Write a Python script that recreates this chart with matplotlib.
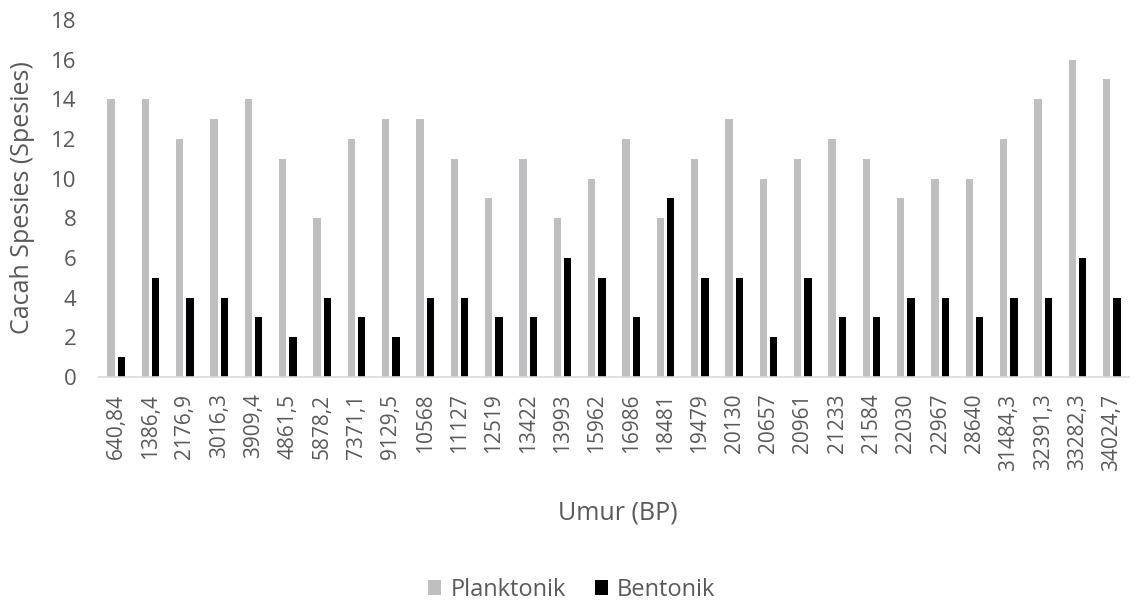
import numpy as np
import matplotlib.pyplot as plt

plt.rcParams['font.family'] = ['Open Sans', 'DejaVu Sans']

# Data
umur = ["640,84", "1386,4", "2176,9", "3016,3", "3909,4", "4861,5", "5878,2",
        "7371,1", "9129,5", "10568", "11127", "12519", "13422", "13993", "15962",
        "16986", "18481", "19479", "20130", "20657", "20961", "21233", "21584",
        "22030", "22967", "28640", "31484,3", "32391,3", "33282,3", "34024,7"]
planktonik = [14, 14, 12, 13, 14, 11, 8, 12, 13, 13, 11, 9, 11, 8, 10,
              12, 8, 11, 13, 10, 11, 12, 11, 9, 10, 10, 12, 14, 16, 15]
bentonik = [1, 5, 4, 4, 3, 2, 4, 3, 2, 4, 4, 3, 3, 6, 5,
            3, 9, 5, 5, 2, 5, 3, 3, 4, 4, 3, 4, 4, 6, 4]

txt = '#595959'
x = np.arange(len(umur))
w = 0.21
off = 0.15

fig = plt.figure(figsize=(11.37, 6.05), dpi=100)
ax = fig.add_axes([0.087, 0.377, 0.906, 0.590])

ax.bar(x - off, planktonik, w, color='#BFBFC1', label='Planktonik')
ax.bar(x + off, bentonik, w, color='#000000', label='Bentonik')

ax.set_xlim(-0.5, len(umur) - 0.5)
ax.set_ylim(0, 18)
ax.set_yticks(range(0, 19, 2))
ax.set_xticks(x)
ax.set_xticklabels(umur, rotation=90)
ax.tick_params(axis='both', length=0, colors=txt)
ax.tick_params(axis='y', pad=16, labelsize=16)
ax.tick_params(axis='x', pad=12, labelsize=15)

for s in ['top', 'right', 'left']:
    ax.spines[s].set_visible(False)
ax.spines['bottom'].set_color('#D9D9D9')
ax.spines['bottom'].set_linewidth(1.2)

fig.text(0.020, 0.673, 'Cacah Spesies (Spesies)', fontsize=18, color=txt,
         rotation=90, ha='center', va='center')
fig.text(0.543, 0.152, 'Umur (BP)', fontsize=18, color=txt, ha='center', va='center')

fig.legend(loc='center', bbox_to_anchor=(0.503, 0.025), ncol=2, frameon=False,
           fontsize=17, labelcolor=txt, handlelength=0.55, handleheight=0.55,
           handletextpad=0.4, columnspacing=1.2)

plt.savefig('out.png')
